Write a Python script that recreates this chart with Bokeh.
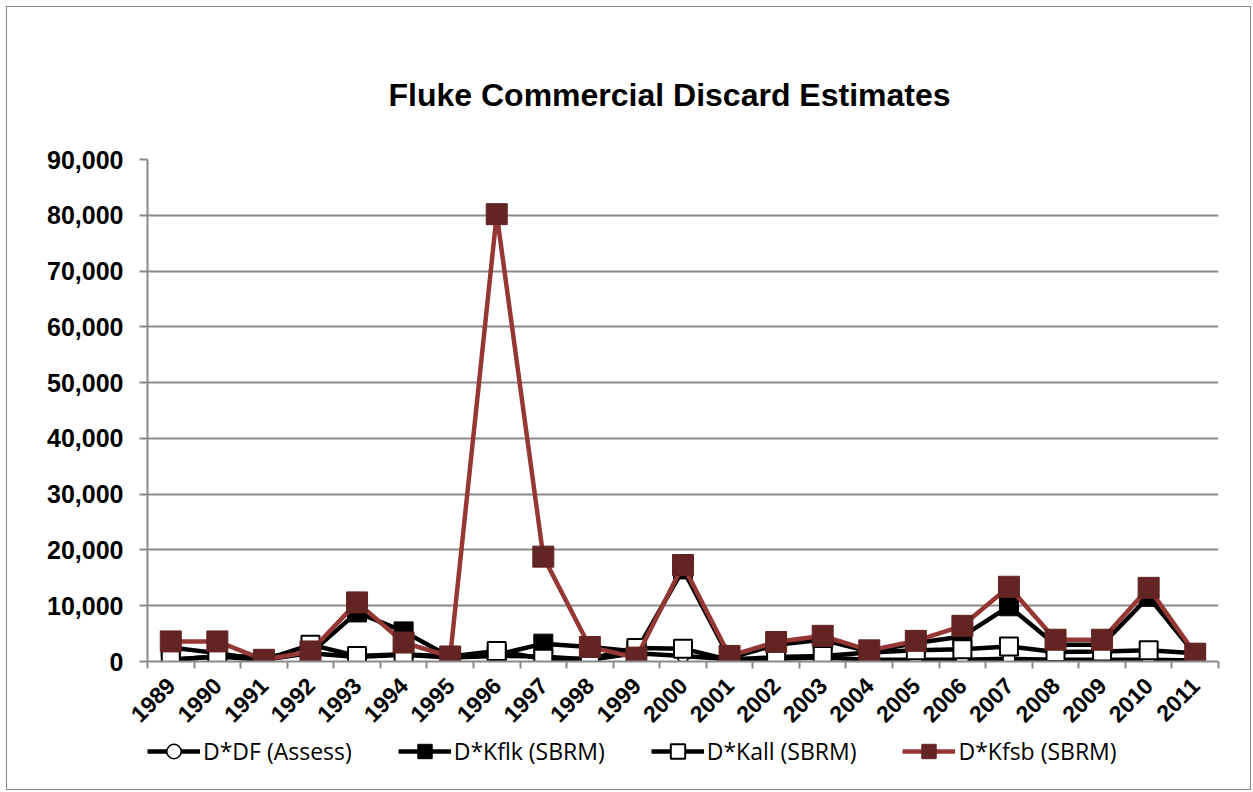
from bokeh.plotting import figure
from bokeh.layouts import column
from bokeh.models import (Range1d, FixedTicker, NumeralTickFormatter, Legend, LegendItem,
                          ColumnDataSource)
from bokeh.embed import file_html
from bokeh.resources import INLINE

years = [1989, 1990, 1991, 1992, 1993, 1994, 1995, 1996, 1997, 1998, 1999, 2000,
         2001, 2002, 2003, 2004, 2005, 2006, 2007, 2008, 2009, 2010, 2011]
df_assess = [300, 900, 900, 1500, 800, 1200, 700, 1000, 900, 300, 1500, 1000,
             400, 500, 700, 300, 300, 300, 500, 300, 300, 300, 200]
kflk = [2500, 1500, 300, 1500, 8800, 5400, 800, 1200, 3200, 2600, 1800, 16500,
        600, 3000, 3900, 1800, 3300, 4500, 9900, 3000, 3000, 11600, 1300]
kall = [300, 900, 300, 3000, 1000, 1300, 900, 1900, 500, 500, 2400, 2300,
        300, 800, 1000, 1600, 2000, 2200, 2700, 1700, 1800, 2000, 1500]
kfsb = [3600, 3600, 300, 1800, 10600, 3400, 900, 80200, 18800, 2600, 700, 17300,
        1000, 3500, 4600, 2000, 3700, 6400, 13400, 3900, 3900, 13200, 1400]
series_names = ["D*DF (Assess)", "D*Kflk (SBRM)", "D*Kall (SBRM)", "D*Kfsb (SBRM)"]
y_ticks = [0, 10000, 20000, 30000, 40000, 50000, 60000, 70000, 80000, 90000]
title_text = "Fluke Commercial Discard Estimates"

src = ColumnDataSource(dict(x=years, df=df_assess, kflk=kflk, kall=kall, kfsb=kfsb))

p = figure(width=1243, height=726, output_backend="svg", toolbar_location=None,
           x_range=Range1d(years[0] - 0.5, years[-1] + 0.5),
           y_range=Range1d(0, 90000),
           min_border_left=140, min_border_right=32, min_border_top=152, min_border_bottom=72)
p.outline_line_color = None
p.background_fill_color = "white"
p.border_fill_color = "white"

p.title.text = title_text
p.title.align = "left"
p.title.offset = 241
p.title.text_font = "Liberation Sans"
p.title.text_font_size = "32px"
p.title.text_font_style = "bold"
p.title.text_color = "black"
p.title.standoff = 93

gray = "#8a8a8a"
# y axis
p.yaxis.ticker = FixedTicker(ticks=y_ticks)
p.yaxis.formatter = NumeralTickFormatter(format="0,0")
p.yaxis.axis_line_color = gray
p.yaxis.axis_line_width = 2
p.yaxis.major_tick_line_color = gray
p.yaxis.major_tick_line_width = 2
p.yaxis.major_tick_out = 8
p.yaxis.major_tick_in = 0
p.yaxis.minor_tick_line_color = None
p.yaxis.major_label_text_font = "Liberation Sans"
p.yaxis.major_label_text_font_size = "25px"
p.yaxis.major_label_text_font_style = "bold"
p.yaxis.major_label_text_color = "black"
p.yaxis.major_label_standoff = 16

# x axis
p.xaxis.ticker = FixedTicker(ticks=years, minor_ticks=[y - 0.5 for y in years] + [years[-1] + 0.5])
p.xaxis.axis_line_color = gray
p.xaxis.axis_line_width = 2
p.xaxis.major_tick_line_color = None
p.xaxis.major_tick_out = 0
p.xaxis.major_tick_in = 0
p.xaxis.minor_tick_line_color = gray
p.xaxis.minor_tick_line_width = 2
p.xaxis.minor_tick_out = 7
p.xaxis.minor_tick_in = 0
p.xaxis.major_label_orientation = 0.785398
p.xaxis.major_label_text_font = "Liberation Sans"
p.xaxis.major_label_text_font_size = "23px"
p.xaxis.major_label_text_font_style = "bold"
p.xaxis.major_label_text_color = "black"
p.xaxis.major_label_standoff = 13

p.xgrid.grid_line_color = None
p.ygrid.grid_line_color = gray
p.ygrid.grid_line_width = 2

red_line = "#953735"
red_fill = "#632523"

styles = [
    dict(line_color="black", line_width=4.5, marker="circle", size=12, fill_color="white",
         mline="black", mwidth=1.5),
    dict(line_color="black", line_width=4.5, marker="square", size=19, fill_color="black",
         mline="black", mwidth=1),
    dict(line_color="black", line_width=4.5, marker="square", size=18, fill_color="white",
         mline="black", mwidth=2),
    dict(line_color=red_line, line_width=4.5, marker="square", size=21, fill_color=red_fill,
         mline=red_fill, mwidth=1),
]
cols = ["df", "kflk", "kall", "kfsb"]
for c, s in zip(cols, styles):
    p.line("x", c, source=src, line_color=s["line_color"], line_width=s["line_width"])
    p.scatter("x", c, source=src, marker=s["marker"], size=s["size"], fill_color=s["fill_color"],
              line_color=s["mline"], line_width=s["mwidth"])

# legend strip below the chart
lf = figure(width=1243, height=56, output_backend="svg", toolbar_location=None,
            x_range=Range1d(0, 1), y_range=Range1d(0, 1),
            x_axis_location=None, y_axis_location=None, min_border=0)
lf.outline_line_color = None
lf.xgrid.grid_line_color = None
lf.ygrid.grid_line_color = None
nan = float("nan")
items = []
for name, s in zip(series_names, styles):
    lr = lf.line(x=[nan], y=[nan], line_color=s["line_color"], line_width=s["line_width"])
    mr = lf.scatter(x=[nan], y=[nan], marker=s["marker"], fill_color=s["fill_color"],
                    line_color=s["mline"], line_width=s["mwidth"])
    items.append(LegendItem(label=name, renderers=[lr, mr]))
legend = Legend(items=items, orientation="horizontal", location=(0, 20))
legend.label_text_font = "Open Sans"
legend.label_text_font_size = "23px"
legend.label_text_color = "black"
legend.glyph_width = 53
legend.glyph_height = 36
legend.label_standoff = 3
legend.spacing = 46
legend.border_line_color = None
legend.background_fill_alpha = 0
legend.padding = 0
legend.margin = 0
lf.add_layout(legend)

layout = column(p, lf, spacing=0,
                styles={"border": "1.5px solid #8a8a8a", "margin": "6px 0 0 6px",
                        "background-color": "white"})

open("out.html", "w").write(file_html(layout, INLINE))
